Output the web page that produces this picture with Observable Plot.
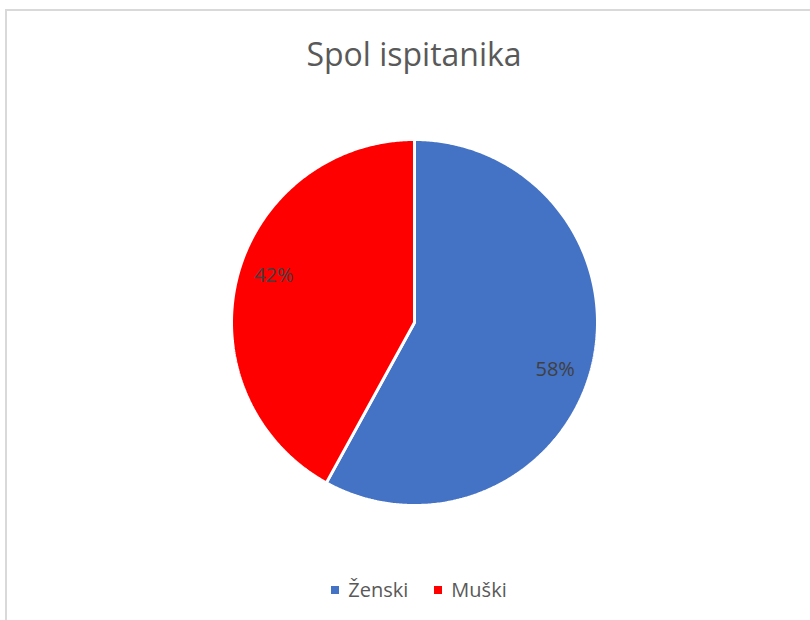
<!DOCTYPE html>
<html>
<head>
<meta charset="utf-8">
<script src="https://cdn.jsdelivr.net/npm/d3@7"></script>
<script src="https://cdn.jsdelivr.net/npm/@observablehq/plot@0.6"></script>
<style>
  html, body { margin: 0; padding: 0; background: #fff; }
  #wrap { position: relative; width: 810px; height: 620px; overflow: hidden; font-family: "Open Sans", sans-serif; }
  #frame { position: absolute; left: 5px; top: 9px; width: 820px; height: 640px; border: 2px solid #d9d9d9; box-sizing: border-box; }
  #title { position: absolute; left: 0; width: 828px; top: 32px; text-align: center; font-size: 32px; color: #595959; line-height: 44px; }
  #legend { position: absolute; left: 0; width: 838px; top: 573px; text-align: center; font-size: 20px; color: #595959; line-height: 28px; }
  #legend span.item { display: inline-flex; align-items: center; margin: 0 13px; }
  #legend span.sw { display: inline-block; width: 8px; height: 8px; margin-right: 9px; }
  #chart { position: absolute; left: 0; top: 0; }
</style>
</head>
<body>
<div id="wrap">
  <div id="frame"></div>
  <div id="chart"></div>
  <div id="title"></div>
  <div id="legend"></div>
</div>
<script>
const titleText = "Spol ispitanika";
const categories = ["Ženski", "Muški"];
const values = [58, 42];
const colors = ["#4472C4", "#FF0000"];

const total = d3.sum(values);
const slices = [];
const labelRows = [];
let cum = 0;
categories.forEach((name, i) => {
  const a0 = cum / total * 2 * Math.PI;
  cum += values[i];
  const a1 = cum / total * 2 * Math.PI;
  const n = Math.max(2, Math.ceil((a1 - a0) / (Math.PI / 360)));
  slices.push({name, x: 0, y: 0});
  for (let k = 0; k <= n; k++) {
    const a = a0 + (a1 - a0) * k / n;
    slices.push({name, x: Math.sin(a), y: Math.cos(a)});
  }
  slices.push({name, x: 0, y: 0});
  const am = (a0 + a1) / 2 + 4 * Math.PI / 180;
  labelRows.push({name, x: 0.81 * Math.sin(am), y: 0.81 * Math.cos(am), label: Math.round(values[i] / total * 100) + "%"});
});

const plot = Plot.plot({
  width: 810,
  height: 620,
  marginLeft: 231,
  marginRight: 213,
  marginTop: 139,
  marginBottom: 115,
  x: {domain: [-1, 1], axis: null},
  y: {domain: [-1, 1], axis: null},
  color: {domain: categories, range: colors},
  style: {background: "transparent"},
  marks: [
    Plot.line(slices, {x: "x", y: "y", z: "name", fill: "name", stroke: "white", strokeWidth: 3, strokeLinejoin: "miter", curve: "linear"}),
    Plot.text(labelRows, {x: "x", y: "y", text: "label", fill: "#404040", fontSize: 20, fontFamily: "Open Sans, sans-serif"})
  ]
});
document.getElementById("chart").appendChild(plot);
document.getElementById("title").textContent = titleText;

const legend = document.getElementById("legend");
categories.forEach((c, i) => {
  const item = document.createElement("span");
  item.className = "item";
  const sw = document.createElement("span");
  sw.className = "sw";
  sw.style.background = colors[i];
  item.appendChild(sw);
  item.appendChild(document.createTextNode(c));
  legend.appendChild(item);
});
</script>
</body>
</html>
